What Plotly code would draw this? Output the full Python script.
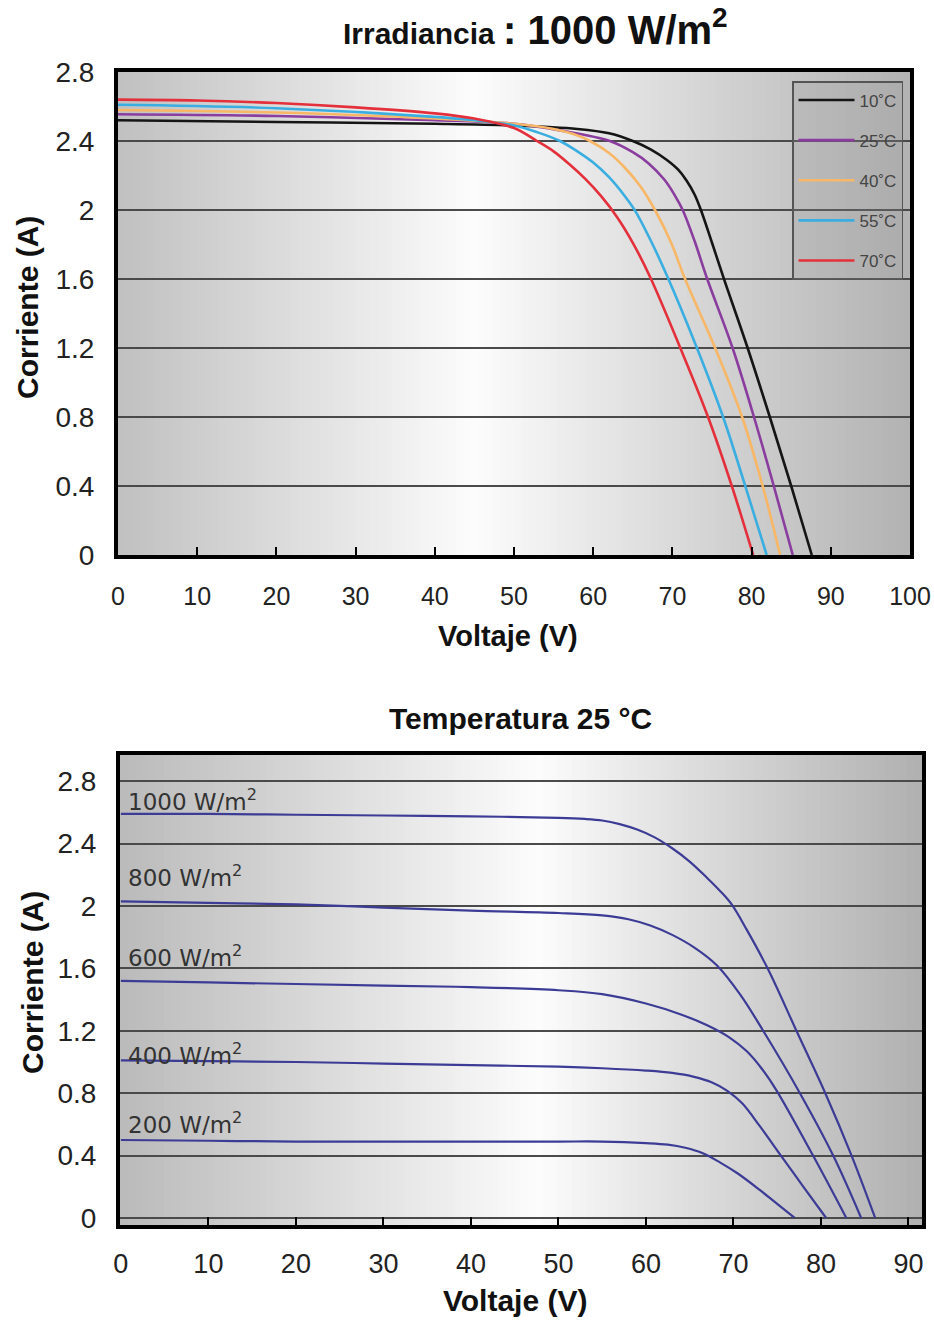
import plotly.graph_objects as go

# ---------------- data: top chart (irradiance 1000 W/m2, varying temperature) -------------
temp_labels = ["10˚C", "25˚C", "40˚C", "55˚C", "70˚C"]
temp_colors = ["#151515", "#8a3d9e", "#f8b766", "#3aaee0", "#e3303b"]

v_10c = [0, 20, 40, 50, 58, 62, 65, 67.3, 69.3, 70.7, 71.8, 72.8, 73.6, 75, 76.4, 79.5, 82.3, 85.0, 87.6]
i_10c = [2.52, 2.51, 2.50, 2.49, 2.47, 2.445, 2.40, 2.35, 2.29, 2.235, 2.17, 2.09, 2.0, 1.81, 1.615, 1.2, 0.8, 0.4, 0]
v_25c = [0, 20, 40, 50, 56, 62.1, 65, 67, 69, 70.3, 71.3, 72.8, 74.4, 77.6, 80.3, 82.8, 85.2]
i_25c = [2.555, 2.545, 2.52, 2.50, 2.46, 2.40, 2.335, 2.27, 2.175, 2.085, 2.0, 1.82, 1.6, 1.2, 0.8, 0.4, 0]
v_40c = [0, 20, 40, 50, 55, 57.5, 59.6, 62, 64, 66, 67.8, 69.8, 71.6, 75.4, 78.8, 81.4, 83.6]
i_40c = [2.58, 2.565, 2.53, 2.50, 2.47, 2.44, 2.40, 2.33, 2.245, 2.135, 2.0, 1.815, 1.6, 1.2, 0.8, 0.4, 0]
v_55c = [0, 20, 40, 45, 50, 53, 55.8, 58, 60, 62, 64, 65.3, 67.4, 69.4, 73.1, 76.4, 79.2, 81.9]
i_55c = [2.61, 2.59, 2.54, 2.52, 2.49, 2.45, 2.40, 2.34, 2.275, 2.19, 2.08, 1.995, 1.81, 1.61, 1.2, 0.8, 0.4, 0]
v_70c = [0, 10, 20, 30, 40, 45, 50, 52.9, 55, 57, 59, 61, 63, 65, 67.2, 71, 74.5, 77.5, 80.2]
i_70c = [2.64, 2.635, 2.62, 2.595, 2.56, 2.53, 2.475, 2.40, 2.34, 2.265, 2.18, 2.08, 1.96, 1.81, 1.61, 1.2, 0.8, 0.4, 0]
temp_v = [v_10c, v_25c, v_40c, v_55c, v_70c]
temp_i = [i_10c, i_25c, i_40c, i_55c, i_70c]

# ---------------- data: bottom chart (25 °C, varying irradiance) -------------
irr_labels = ["1000 W/m<sup>2</sup>", "800 W/m<sup>2</sup>", "600 W/m<sup>2</sup>",
              "400 W/m<sup>2</sup>", "200 W/m<sup>2</sup>"]
v_1000 = [0, 10, 20, 30, 40, 50, 53, 55, 57, 59, 61, 63, 65, 67, 68.5, 69.8, 71.5, 74, 77.2, 80.5, 83.5, 86.2]
i_1000 = [2.59, 2.59, 2.585, 2.58, 2.575, 2.565, 2.558, 2.548, 2.525, 2.49, 2.44, 2.37, 2.285, 2.18, 2.095,
          2.01, 1.85, 1.59, 1.2, 0.8, 0.4, 0]
v_800 = [0, 10, 20, 30, 40, 50, 55, 58, 60.5, 63, 65.5, 68.1, 70.8, 73.4, 77.6, 81.4, 84.6]
i_800 = [2.03, 2.02, 2.01, 1.99, 1.97, 1.955, 1.94, 1.915, 1.875, 1.815, 1.735, 1.62, 1.43, 1.2, 0.8, 0.4, 0]
v_600 = [0, 10, 20, 30, 40, 50, 55, 60, 64, 67, 69.6, 71.5, 73.2, 74.9, 79.1, 82.9]
i_600 = [1.52, 1.51, 1.50, 1.49, 1.48, 1.46, 1.435, 1.375, 1.305, 1.235, 1.155, 1.07, 0.96, 0.82, 0.4, 0]
v_400 = [0, 10, 20, 30, 40, 50, 55, 60, 63, 65.5, 67.5, 69.3, 71, 73, 75.3, 78, 80.6]
i_400 = [1.01, 1.005, 1.0, 0.99, 0.98, 0.97, 0.96, 0.945, 0.93, 0.905, 0.87, 0.815, 0.735, 0.59, 0.41, 0.2, 0]
v_200 = [0, 10, 20, 30, 40, 50, 55, 60, 62.5, 64.5, 66.5, 68.5, 70.5, 73, 75, 77.0]
i_200 = [0.50, 0.495, 0.49, 0.49, 0.49, 0.49, 0.49, 0.48, 0.47, 0.45, 0.415, 0.355, 0.285, 0.18, 0.09, 0]
irr_v = [v_1000, v_800, v_600, v_400, v_200]
irr_i = [i_1000, i_800, i_600, i_400, i_200]
irr_label_y = [2.68, 2.19, 1.68, 1.05, 0.61]

y_ticks = [0, 0.4, 0.8, 1.2, 1.6, 2, 2.4, 2.8]
y_tick_text = ["0", "0.4", "0.8", "1.2", "1.6", "2", "2.4", "2.8"]
x_ticks_top = [0, 10, 20, 30, 40, 50, 60, 70, 80, 90, 100]
x_ticks_bottom = [0, 10, 20, 30, 40, 50, 60, 70, 80, 90]

FONT = "Liberation Sans, Arial, sans-serif"
WIDE = "DejaVu Sans, Liberation Sans, sans-serif"
W, H = 934, 1320


def px_x(p):
    return p / W


def px_y(p):
    return 1 - p / H


fig = go.Figure()

for name, col, vv, ii in zip(temp_labels, temp_colors, temp_v, temp_i):
    fig.add_trace(go.Scatter(x=vv, y=ii, mode="lines", name=name,
                             line=dict(color=col, width=2.6, shape="spline", smoothing=1.0),
                             legendgroup=name, xaxis="x", yaxis="y"))

for name, vv, ii in zip(irr_labels, irr_v, irr_i):
    fig.add_trace(go.Scatter(x=vv, y=ii, mode="lines", name=name, showlegend=False,
                             line=dict(color="#3c3c96", width=2.2, shape="spline", smoothing=1.0),
                             xaxis="x2", yaxis="y2"))


def stripes(xref, yref, left, mid, right, peak, n=110):
    out = []
    for k in range(n):
        t0, t1 = k / n, (k + 1) / n
        t = (t0 + t1) / 2
        if t < peak:
            g = left + (mid - left) * (t / peak)
        else:
            g = mid + (right - mid) * ((t - peak) / (1 - peak))
        g = int(round(g))
        out.append(dict(type="rect", xref=xref, yref=yref, x0=t0, x1=t1 + 0.002, y0=0, y1=1,
                        fillcolor=f"rgb({g},{g},{g})", line=dict(width=0), layer="below"))
    return out


shapes = stripes("x domain", "y domain", 192, 252, 178, 0.45) + \
    stripes("x2 domain", "y2 domain", 186, 252, 176, 0.52)

axis_common = dict(showline=True, mirror=True, linewidth=4, linecolor="#000",
                   zeroline=False, automargin=False)

fig.update_layout(
    width=W, height=H,
    margin=dict(l=0, r=0, t=0, b=0),
    paper_bgcolor="white",
    plot_bgcolor="#dcdcdc",
    shapes=shapes,
    showlegend=True,
    legend=dict(x=px_x(792), y=px_y(81), xanchor="left", yanchor="top",
                bgcolor="rgba(150,150,150,0.22)", bordercolor="#555", borderwidth=1.5,
                font=dict(family=FONT, size=17, color="#444"),
                itemwidth=56, tracegroupgap=15, traceorder="grouped"),
    xaxis=dict(domain=[px_x(118), px_x(910)], range=[0, 100], tickvals=x_ticks_top,
               ticks="inside", ticklen=8, tickwidth=1.5, tickcolor="#000",
               showgrid=False, anchor="y", ticklabelstandoff=16,
               tickfont=dict(family=FONT, size=25, color="#222"), **axis_common),
    yaxis=dict(domain=[px_y(555), px_y(72)], range=[0, 2.8], tickvals=y_ticks, ticktext=y_tick_text,
               ticks="", showgrid=True, gridcolor="#4a4a4a", gridwidth=2, anchor="x",
               ticklabelstandoff=14,
               tickfont=dict(family=FONT, size=28, color="#222"), **axis_common),
    xaxis2=dict(domain=[px_x(120), px_x(922)], range=[-0.1, 91.55], tickvals=x_ticks_bottom,
                ticks="inside", ticklen=8, tickwidth=1.5, tickcolor="#000",
                showgrid=False, anchor="y2", ticklabelstandoff=12,
                tickfont=dict(family=FONT, size=27, color="#222"), **axis_common),
    yaxis2=dict(domain=[px_y(1225), px_y(755)], range=[-0.045, 2.968], tickvals=y_ticks,
                ticktext=y_tick_text, ticks="", showgrid=True, gridcolor="#4a4a4a", gridwidth=2,
                anchor="x2", ticklabelstandoff=14,
                tickfont=dict(family=FONT, size=28, color="#222"), **axis_common),
)

ann = [
    dict(text="<b><span style='font-size:30px'>Irradiancia</span> <span style='font-size:40px'>: 1000 W/m<sup>2</sup></span></b>",
         x=px_x(535), y=px_y(27), xref="paper", yref="paper", showarrow=False,
         xanchor="center", yanchor="middle", font=dict(family=FONT, size=30, color="#111")),
    dict(text="<b>Temperatura 25 °C</b>", x=px_x(520), y=px_y(718), xref="paper", yref="paper",
         showarrow=False, xanchor="center", yanchor="middle",
         font=dict(family=FONT, size=30, color="#111")),
    dict(text="<b>Voltaje (V)</b>", x=px_x(508), y=px_y(636), xref="paper", yref="paper",
         showarrow=False, xanchor="center", yanchor="middle",
         font=dict(family=FONT, size=29, color="#111")),
    dict(text="<b>Voltaje (V)</b>", x=px_x(515), y=px_y(1300), xref="paper", yref="paper",
         showarrow=False, xanchor="center", yanchor="middle",
         font=dict(family=FONT, size=30, color="#111")),
    dict(text="<b>Corriente (A)</b>", x=px_x(27), y=px_y(308), xref="paper", yref="paper",
         showarrow=False, xanchor="center", yanchor="middle", textangle=-90,
         font=dict(family=FONT, size=30, color="#111")),
    dict(text="<b>Corriente (A)</b>", x=px_x(32), y=px_y(983), xref="paper", yref="paper",
         showarrow=False, xanchor="center", yanchor="middle", textangle=-90,
         font=dict(family=FONT, size=30, color="#111")),
]
for lab, ly in zip(irr_labels, irr_label_y):
    ann.append(dict(text=lab, x=0.6, y=ly, xref="x2", yref="y2", showarrow=False,
                    xanchor="left", yanchor="middle",
                    font=dict(family=WIDE, size=23, color="#333")))
fig.update_layout(annotations=ann)

fig.write_html("out.html")
